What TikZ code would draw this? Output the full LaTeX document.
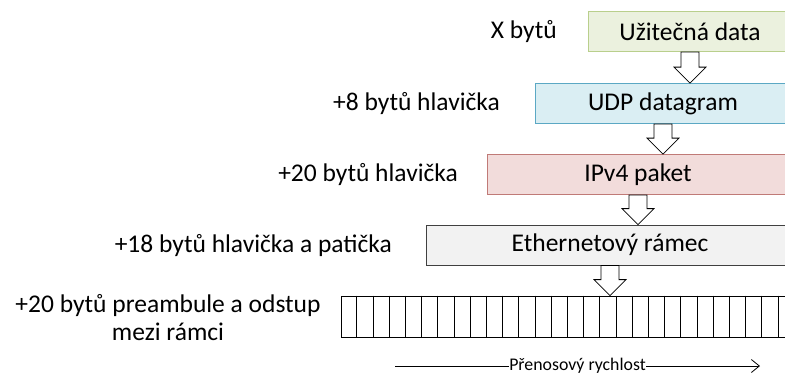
\documentclass[tikz,border=0pt]{standalone}
\usepackage{fontspec}
\setmainfont{Carlito}
\usetikzlibrary{calc,arrows.meta}

\definecolor{zelenaF}{HTML}{EBF1DE}
\definecolor{zelenaD}{HTML}{B9CF8C}
\definecolor{modraF}{HTML}{DAEEF3}
\definecolor{modraD}{HTML}{5BA8C4}
\definecolor{cervenaF}{HTML}{F2DCDB}
\definecolor{cervenaD}{HTML}{C07A77}
\definecolor{sedaF}{HTML}{F2F2F2}
\definecolor{sedaD}{HTML}{404040}

\tikzset{
    vrstva/.style={draw, line width=0.8pt, minimum height=40pt, inner sep=0pt,
        font=\fontsize{25.5}{28}\selectfont},
    popis/.style={inner sep=0pt, font=\fontsize{25.5}{28}\selectfont},
    blok/.style={draw, fill=white, line width=0.8pt, line join=miter},
}

% block arrow from the bottom of #1 down to the top of #2
\newcommand{\sipka}[2]{%
    \draw[blok] let \p1=(#1.south), \p2=(#1.south |- #2.north) in
        (\x1-9pt,\y1) -- (\x1+9pt,\y1) -- (\x1+9pt,\y2+16pt) -- (\x1+16pt,\y2+16pt)
        -- (\x2,\y2) -- (\x1-16pt,\y2+16pt) -- (\x1-9pt,\y2+16pt) -- cycle;}

\begin{document}
\begin{tikzpicture}[x=1pt, y=-1pt, >={Straight Barb[length=8pt,width=13pt]}]
    \useasboundingbox (0,0) rectangle (785,376);

    \node[vrstva, fill=zelenaF, draw=zelenaD, minimum width=204pt] (data) at (690,31.5) {Užitečná data};
    \node[vrstva, fill=modraF, draw=modraD, minimum width=256pt] (udp) at (663,103.5) {UDP datagram};
    \node[vrstva, fill=cervenaF, draw=cervenaD, minimum width=302pt] (ip) at (638,174.5) {IPv4 paket};
    \node[vrstva, fill=sedaF, draw=sedaD, minimum width=368pt] (eth) at (610,245) {Ethernetový rámec};
    \node[draw, line width=0.8pt, minimum width=460pt, minimum height=41pt, inner sep=0pt] (linka) at (571,316.5) {};

    \node[popis, anchor=east] (xb) at (557,32) {X bytů};
    \node[popis, anchor=east] (hudp) at (500,104) {+8 bytů hlavička};
    \node[popis, anchor=east] (hip) at (458,175) {+20 bytů hlavička};
    \node[popis, anchor=east] (heth) at (392,246) {+18 bytů hlavička a patička};
    \node[popis, align=center] (hpre) at (168,318) {+20 bytů preambule a odstup\\mezi rámci};

    % bytes on the line
    \foreach \i in {1,...,28}
        \draw[line width=0.8pt] ([xshift=\i*16.2pt]linka.north west) -- ([xshift=\i*16.2pt]linka.south west);

    \sipka{data}{udp}
    \sipka{udp}{ip}
    \sipka{ip}{eth}
    \sipka{eth}{linka}

    \coordinate (zac) at (395,366);
    \coordinate (kon) at (760,366);
    \draw[->, line width=0.8pt] (zac) -- (kon)
        node[midway, fill=white, inner sep=0.5pt, font=\fontsize{17.8}{20}\selectfont] (rychlost) {Přenosový rychlost};
\end{tikzpicture}
\end{document}
